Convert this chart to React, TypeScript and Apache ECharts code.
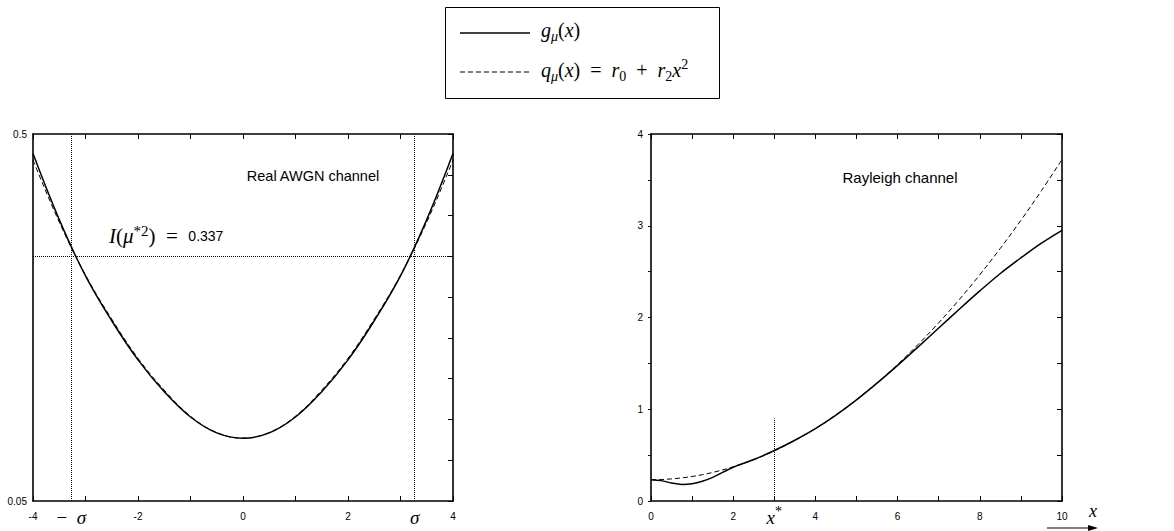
import React, { useEffect, useRef } from 'react';
import * as echarts from 'echarts';

// ---------- data ----------
const awgnX = [-4, -3.5, -3, -2.5, -2, -1.5, -1, -0.5, 0, 0.5, 1, 1.5, 2, 2.5, 3, 3.5, 4];
const awgnG = [0.476, 0.395, 0.326, 0.271, 0.223, 0.184, 0.153, 0.1335, 0.127, 0.1335, 0.153, 0.184, 0.223, 0.271, 0.326, 0.395, 0.476];
const awgnQ = [0.468, 0.392, 0.327, 0.273, 0.225, 0.186, 0.154, 0.134, 0.127, 0.134, 0.154, 0.186, 0.225, 0.273, 0.327, 0.392, 0.468];
const awgnSigma = 3.27;
const awgnILine = 0.352;
const awgnILabel = '0.337';
const awgnXLabels = [-4, -2, 0, 2, 4];
const awgnYLabels = [0.05, 0.5];

const rayX = [0, 0.25, 0.5, 0.75, 1, 1.25, 1.5, 2, 2.5, 3, 3.5, 4, 4.5, 5, 5.5, 6, 6.5, 7, 7.5, 8, 8.5, 9, 9.5, 10];
const rayG = [0.232, 0.222, 0.196, 0.181, 0.188, 0.215, 0.258, 0.368, 0.452, 0.55, 0.662, 0.788, 0.936, 1.102, 1.284, 1.478, 1.68, 1.885, 2.09, 2.29, 2.48, 2.65, 2.81, 2.95];
const rayQ = [0.232, 0.234, 0.241, 0.252, 0.267, 0.287, 0.311, 0.372, 0.45, 0.546, 0.66, 0.79, 0.939, 1.105, 1.288, 1.488, 1.707, 1.942, 2.195, 2.466, 2.754, 3.059, 3.382, 3.722];
const rayXStar = 3;
const rayXStarTop = 0.9;
const rayXLabels = [0, 2, 4, 6, 8, 10];
const rayYLabels = [0, 1, 2, 3, 4];

// ---------- styles ----------
const BLACK = '#000';
const SANS = 'Liberation Sans';
const SERIF = 'Liberation Serif';

const mathRich = (size: number) => ({
  i: { fontFamily: SERIF, fontStyle: 'italic', fontSize: size, lineHeight: 26, color: BLACK },
  r: { fontFamily: SERIF, fontSize: size, lineHeight: 26, color: BLACK },
  si: { fontFamily: SERIF, fontStyle: 'italic', fontSize: Math.round(size * 0.72), lineHeight: 14, verticalAlign: 'bottom', color: BLACK },
  s: { fontFamily: SERIF, fontSize: Math.round(size * 0.72), lineHeight: 14, verticalAlign: 'bottom', color: BLACK },
  sup: { fontFamily: SERIF, fontSize: Math.round(size * 0.72), lineHeight: 14, verticalAlign: 'top', color: BLACK },
  sans: { fontFamily: SANS, fontSize: 14, lineHeight: 26, color: BLACK },
});

const near = (v: number, list: number[]) => list.some((t) => Math.abs(t - v) < 1e-6);

function axisBase(grid: number, min: number, max: number, interval: number) {
  return {
    type: 'value',
    gridIndex: grid,
    min,
    max,
    interval,
    splitLine: { show: false },
    axisLine: { show: true, onZero: false, lineStyle: { color: BLACK, width: 1.6 } },
    axisTick: { show: true, inside: true, length: 5, lineStyle: { color: BLACK, width: 1 } },
  };
}

function buildOption() {
  const labelStyle = { fontFamily: SANS, fontSize: 10, color: BLACK };
  const xAxis = [
    {
      ...axisBase(0, -4, 4, 1),
      position: 'bottom',
      axisLabel: { ...labelStyle, margin: 10, formatter: (v: number) => (near(v, awgnXLabels) ? String(Math.round(v)) : '') },
    },
    { ...axisBase(0, -4, 4, 1), position: 'top', axisLabel: { show: false } },
    {
      ...axisBase(1, 0, 10, 1),
      position: 'bottom',
      axisLabel: { ...labelStyle, margin: 10, formatter: (v: number) => (near(v, rayXLabels) ? String(Math.round(v)) : '') },
    },
    { ...axisBase(1, 0, 10, 1), position: 'top', axisLabel: { show: false } },
  ];
  const yAxis = [
    {
      ...axisBase(0, 0.05, 0.5, 0.05),
      position: 'left',
      axisTick: { show: false },
      axisLabel: {
        ...labelStyle,
        margin: 6,
        formatter: (v: number) => (near(v, awgnYLabels) ? (Math.abs(v - 0.05) < 1e-6 ? '0.05' : '0.5') : ''),
      },
    },
    { ...axisBase(0, 0.05, 0.5, 0.05), position: 'right', axisLabel: { show: false } },
    {
      ...axisBase(1, 0, 4, 0.5),
      position: 'left',
      axisTick: { show: true, inside: false, length: 3, lineStyle: { color: BLACK, width: 1 } },
      axisLabel: { ...labelStyle, margin: 8, formatter: (v: number) => (near(v, rayYLabels) ? String(Math.round(v)) : '') },
    },
    { ...axisBase(1, 0, 4, 0.5), position: 'right', axisLabel: { show: false } },
  ];

  const dotted = { type: 'dotted', color: BLACK, width: 1 };
  const sigmaLabel = (txt: string) => ({
    show: true,
    position: 'start',
    distance: 3,
    formatter: txt,
    rich: mathRich(19),
  });

  const series = [
    {
      name: 'g_awgn',
      type: 'line',
      xAxisIndex: 0,
      yAxisIndex: 0,
      data: awgnX.map((x, i) => [x, awgnG[i]]),
      showSymbol: false,
      smooth: 0.4,
      lineStyle: { color: BLACK, width: 1.5 },
      z: 3,
      markLine: {
        silent: true,
        symbol: 'none',
        lineStyle: dotted,
        label: { show: false },
        data: [
          { xAxis: -awgnSigma, label: sigmaLabel('{r|−}{r|  }{i|σ}') },
          { xAxis: awgnSigma, label: sigmaLabel('{i|σ}') },
          { yAxis: awgnILine, label: { show: false } },
        ],
      },
    },
    {
      name: 'q_awgn',
      type: 'line',
      xAxisIndex: 0,
      yAxisIndex: 0,
      data: awgnX.map((x, i) => [x, awgnQ[i]]),
      showSymbol: false,
      smooth: 0.4,
      lineStyle: { color: BLACK, width: 1, type: [5, 3] },
      z: 2,
    },
    {
      name: 'g_ray',
      type: 'line',
      xAxisIndex: 2,
      yAxisIndex: 2,
      data: rayX.map((x, i) => [x, rayG[i]]),
      showSymbol: false,
      smooth: 0.35,
      lineStyle: { color: BLACK, width: 1.5 },
      z: 3,
      markLine: {
        silent: true,
        symbol: 'none',
        lineStyle: dotted,
        data: [
          [
            {
              coord: [rayXStar, 0],
              label: { show: true, position: 'start', distance: 3, formatter: '{i|x}{sup|*}', rich: mathRich(19) },
            },
            { coord: [rayXStar, rayXStarTop] },
          ],
        ],
      },
    },
    {
      name: 'q_ray',
      type: 'line',
      xAxisIndex: 2,
      yAxisIndex: 2,
      data: rayX.map((x, i) => [x, rayQ[i]]),
      showSymbol: false,
      smooth: 0.35,
      lineStyle: { color: BLACK, width: 1, type: [5, 3] },
      z: 2,
    },
  ];

  const graphic = [
    // legend box
    { type: 'rect', shape: { x: 445.5, y: 7.5, width: 274, height: 91 }, style: { fill: '#fff', stroke: BLACK, lineWidth: 1 } },
    { type: 'line', shape: { x1: 460, y1: 33, x2: 530, y2: 33 }, style: { stroke: BLACK, lineWidth: 1.5 } },
    { type: 'line', shape: { x1: 460, y1: 72, x2: 530, y2: 72 }, style: { stroke: BLACK, lineWidth: 1, lineDash: [5, 3] } },
    {
      type: 'text',
      x: 541,
      y: 30,
      style: {
        text: '{i|g}{si|μ}{r|(}{i|x}{r|)}',
        rich: mathRich(20),
        verticalAlign: 'middle',
      },
    },
    {
      type: 'text',
      x: 541,
      y: 70,
      style: {
        text: '{i|q}{si|μ}{r|(}{i|x}{r|)  =  }{i|r}{s|0}{r|  +  }{i|r}{s|2}{i|x}{sup|2}',
        rich: mathRich(20),
        verticalAlign: 'middle',
      },
    },
    // annotations
    {
      type: 'text',
      x: 109,
      y: 236,
      style: {
        text: '{i|I}{r|(}{i|μ}{sup|*2}{r|)  =  }{sans|' + awgnILabel + '}',
        rich: mathRich(21),
        verticalAlign: 'middle',
      },
    },
    {
      type: 'text',
      x: 313,
      y: 176,
      style: { text: 'Real AWGN channel', fontFamily: SANS, fontSize: 14.5, fill: BLACK, align: 'center', verticalAlign: 'middle' },
    },
    {
      type: 'text',
      x: 900,
      y: 177,
      style: { text: 'Rayleigh channel', fontFamily: SANS, fontSize: 15, fill: BLACK, align: 'center', verticalAlign: 'middle' },
    },
    // x axis arrow label
    {
      type: 'text',
      x: 1093,
      y: 511,
      style: { text: 'x', fontFamily: SERIF, fontStyle: 'italic', fontSize: 18, fill: BLACK, align: 'center', verticalAlign: 'middle' },
    },
    { type: 'line', shape: { x1: 1047, y1: 528, x2: 1092, y2: 528 }, style: { stroke: BLACK, lineWidth: 1.2 } },
    { type: 'polygon', shape: { points: [[1098, 528], [1088, 525], [1088, 531]] }, style: { fill: BLACK } },
  ];

  return {
    animation: false,
    backgroundColor: '#fff',
    grid: [
      { left: 33, top: 134, width: 420, height: 367 },
      { left: 651, top: 134, width: 411, height: 367 },
    ],
    xAxis,
    yAxis,
    series,
    graphic,
  };
}

export default function App() {
  const ref = useRef<HTMLDivElement>(null);
  useEffect(() => {
    document.body.style.margin = '0';
    const chart = echarts.init(ref.current as HTMLDivElement, null, { renderer: 'svg' });
    chart.setOption(buildOption() as any);
    return () => chart.dispose();
  }, []);
  return <div ref={ref} style={{ width: 1174, height: 531 }} />;
}
